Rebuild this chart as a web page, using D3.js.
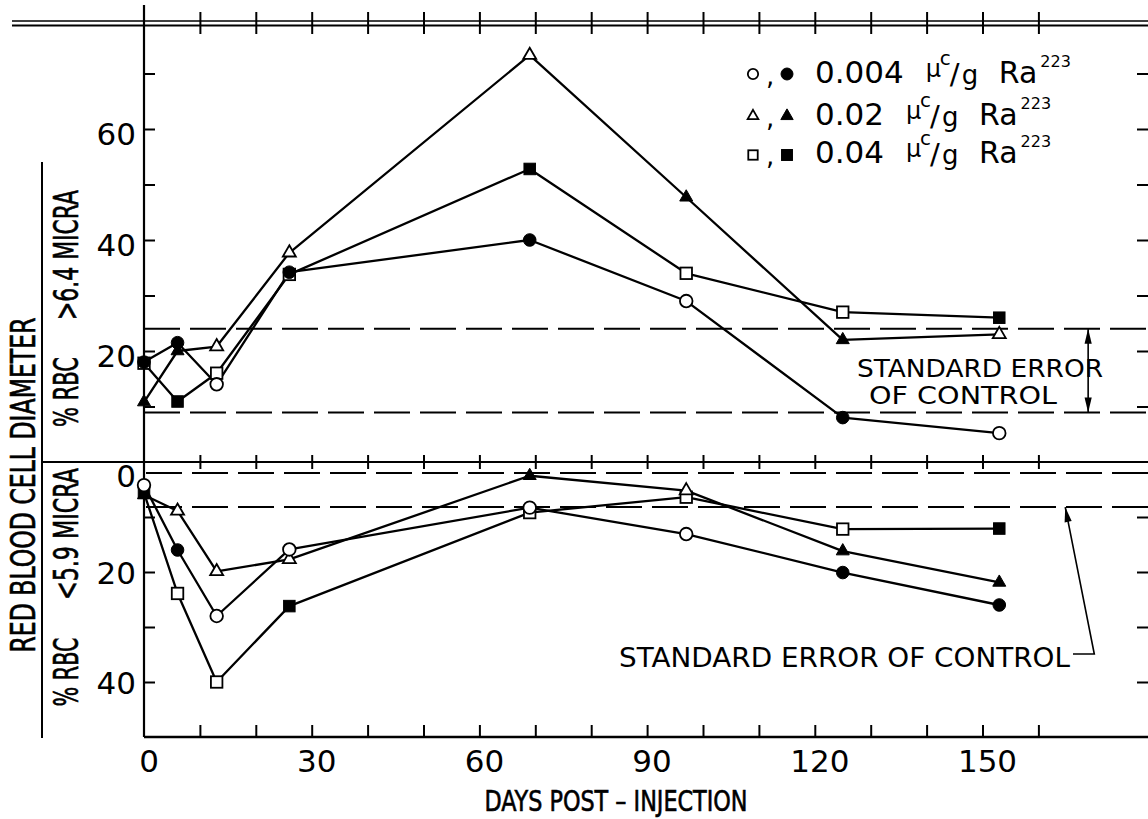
<!DOCTYPE html>
<html><head><meta charset="utf-8">
<script src="https://cdn.jsdelivr.net/npm/d3@7"></script>
<style>html,body{margin:0;padding:0;background:#fff}</style>
</head><body>
<svg id="c" width="1148" height="819"></svg>
<script>
// ---------------- data ----------------
const days = [0, 6, 13, 26, 69, 97, 125, 153];
const doseLabels = ["0.004", "0.02", "0.04"];
const doseShapes = ["circle", "triangle", "square"];
// upper panel: % RBC > 6.4 micra
const upper004 = [18.0, 21.5, 14.0, 34.2, 40.0, 29.0, 8.0, 5.2];
const upper002 = [10.8, 20.0, 20.8, 37.7, 73.3, 47.7, 22.0, 23.0];
const upper04  = [17.8, 10.9, 16.0, 33.8, 52.8, 34.0, 27.0, 26.0];
const upperFilled004 = [1, 1, 0, 1, 1, 0, 1, 0];
const upperFilled002 = [1, 1, 0, 0, 0, 1, 1, 0];
const upperFilled04  = [0, 1, 0, 0, 1, 0, 0, 1];
// lower panel: % RBC < 5.9 micra
const lower004 = [4.2, 16.0, 28.0, 15.9, 8.3, 13.1, 20.1, 26.0];
const lower002 = [6.0, 8.9, 19.9, 17.7, 2.5, 5.2, 16.2, 21.9];
const lower04  = [5.6, 23.9, 40.0, 26.2, 9.2, 6.4, 12.2, 12.1];
const lowerFilled004 = [0, 1, 0, 0, 0, 0, 1, 1];
const lowerFilled002 = [1, 0, 0, 0, 1, 0, 1, 1];
const lowerFilled04  = [1, 0, 0, 1, 0, 0, 0, 1];
// standard error of control bands
const upperControlSE = [8.9, 24.0];
const lowerControlSE = [2.0, 8.2];
// ticks
const xTickLabels = [0, 30, 60, 90, 120, 150];
const xMinorTicks = d3.range(10, 170, 10);
const upperTickLabels = [20, 40, 60];
const upperTicks = [10, 20, 30, 40, 50, 60, 70];
const lowerTickLabels = [0, 20, 40];
const lowerTicks = [10, 20, 30, 40];

// ---------------- layout ----------------
const W = 1148, H = 819;
const svg = d3.select("#c");
const x = d3.scaleLinear().domain([0, 160]).range([144, 144 + 160 * 5.59]);
const yU = d3.scaleLinear().domain([0, 80]).range([462, 462 - 80 * 5.55]);
const yL = d3.scaleLinear().domain([0, 50]).range([462, 737]);
const NUM = "'DejaVu Sans', sans-serif";
const COND = "'Liberation Sans Narrow', 'DejaVu Sans Condensed', sans-serif";

const frame = svg.append("g").attr("stroke", "#000").attr("fill", "none");
frame.append("line").attr("x1", 12).attr("x2", W).attr("y1", 21).attr("y2", 21).attr("stroke-width", 1.6);
frame.append("line").attr("x1", 12).attr("x2", W).attr("y1", 25.5).attr("y2", 25.5).attr("stroke-width", 1.8);
frame.append("line").attr("x1", 144).attr("x2", 144).attr("y1", 5).attr("y2", yL(50)).attr("stroke-width", 2.2);
frame.append("line").attr("x1", 42).attr("x2", W).attr("y1", yU(0)).attr("y2", yU(0)).attr("stroke-width", 2);
frame.append("line").attr("x1", 144).attr("x2", W).attr("y1", yL(50)).attr("y2", yL(50)).attr("stroke-width", 2.4);
frame.append("line").attr("x1", 42).attr("x2", 42).attr("y1", 162).attr("y2", 738).attr("stroke-width", 2);

function styleAxis(g) {
  g.select(".domain").remove();
  g.selectAll(".tick line").attr("stroke", "#000").attr("stroke-width", 2);
  g.selectAll(".tick text").remove();
}
svg.append("g").attr("transform", "translate(0,12)")
  .call(d3.axisBottom(x).tickValues(xMinorTicks).tickSize(22).tickSizeOuter(0)).call(styleAxis);
svg.append("g").attr("transform", `translate(0,${yU(0) - 7})`)
  .call(d3.axisBottom(x).tickValues(xMinorTicks).tickSize(14).tickSizeOuter(0)).call(styleAxis);
svg.append("g").attr("transform", `translate(0,${yL(50)})`)
  .call(d3.axisTop(x).tickValues(xMinorTicks).tickSize(12).tickSizeOuter(0)).call(styleAxis);
svg.append("g").attr("transform", "translate(144,0)")
  .call(d3.axisRight(yU).tickValues(upperTicks).tickSize(11).tickSizeOuter(0)).call(styleAxis);
svg.append("g").attr("transform", "translate(144,0)")
  .call(d3.axisRight(yL).tickValues(lowerTicks).tickSize(11).tickSizeOuter(0)).call(styleAxis);
svg.append("g").attr("transform", `translate(${W},0)`)
  .call(d3.axisLeft(yU).tickValues(upperTicks).tickSize(11).tickSizeOuter(0)).call(styleAxis);
svg.append("g").attr("transform", `translate(${W},0)`)
  .call(d3.axisLeft(yL).tickValues(lowerTicks).tickSize(11).tickSizeOuter(0)).call(styleAxis);

// tick labels
svg.append("g").selectAll("text").data(upperTickLabels).join("text")
  .attr("x", 136).attr("y", d => yU(d) + 16).attr("text-anchor", "end")
  .attr("font-family", NUM).attr("font-size", 31).text(d => d);
svg.append("g").selectAll("text").data(lowerTickLabels).join("text")
  .attr("x", 136).attr("y", d => d === 0 ? yL(d) + 25 : yL(d) + 12).attr("text-anchor", "end")
  .attr("font-family", NUM).attr("font-size", 31).text(d => d);
svg.append("g").selectAll("text").data(xTickLabels).join("text")
  .attr("x", d => x(d) + 5).attr("y", 772).attr("text-anchor", "middle")
  .attr("font-family", NUM).attr("font-size", 31).text(d => d);

// axis titles
svg.append("text").attr("transform", `translate(616,811)`).attr("text-anchor", "middle")
  .attr("font-family", COND).attr("font-size", 29).attr("stroke", "#000").attr("stroke-width", 0.6)
  .attr("textLength", 263).attr("lengthAdjust", "spacingAndGlyphs")
  .text("DAYS POST – INJECTION");
function vtext(bx, cy, len, size, str) {
  svg.append("text").attr("transform", `translate(${bx},${cy}) rotate(-90)`)
    .attr("text-anchor", "middle").attr("font-family", COND).attr("font-size", size)
    .attr("stroke", "#000").attr("stroke-width", 0.6)
    .attr("textLength", len).attr("lengthAdjust", "spacingAndGlyphs").text(str);
}
vtext(35, 485, 335, 33, "RED BLOOD CELL DIAMETER");
vtext(78, 392, 70, 33, "% RBC");
vtext(78, 255, 130, 33, ">6.4 MICRA");
vtext(78, 672, 69, 33, "% RBC");
vtext(78, 534, 132, 33, "<5.9 MICRA");

// control bands (dashed)
const dash = "36,10";
svg.append("g").selectAll("line").data(upperControlSE).join("line")
  .attr("x1", 144).attr("x2", W).attr("y1", d => yU(d)).attr("y2", d => yU(d))
  .attr("stroke", "#000").attr("stroke-width", 2).attr("stroke-dasharray", dash);
svg.append("g").selectAll("line").data(lowerControlSE).join("line")
  .attr("x1", 146).attr("x2", W).attr("y1", d => yL(d)).attr("y2", d => yL(d))
  .attr("stroke", "#000").attr("stroke-width", 2).attr("stroke-dasharray", dash);

// ---------------- series ----------------
const upperSeries = [
  { shape: "circle", vals: upper004, filled: upperFilled004 },
  { shape: "triangle", vals: upper002, filled: upperFilled002 },
  { shape: "square", vals: upper04, filled: upperFilled04 }];
const lowerSeries = [
  { shape: "circle", vals: lower004, filled: lowerFilled004 },
  { shape: "triangle", vals: lower002, filled: lowerFilled002 },
  { shape: "square", vals: lower04, filled: lowerFilled04 }];

function drawMarker(g, shape, cx, cy, filled, scale = 1) {
  const fill = filled ? "#000" : "#fff";
  const sw = filled ? 1 : 1.8;
  if (shape === "circle") {
    g.append("circle").attr("cx", cx).attr("cy", cy).attr("r", 6.3 * scale)
      .attr("fill", fill).attr("stroke", "#000").attr("stroke-width", sw);
  } else if (shape === "triangle") {
    const s = 13 * scale;
    g.append("path").attr("d", d3.symbol(d3.symbolTriangle, s * s * Math.sqrt(3) / 4)())
      .attr("transform", `translate(${cx},${cy})`)
      .attr("fill", fill).attr("stroke", "#000").attr("stroke-width", sw);
  } else {
    const s = 11.5 * scale;
    g.append("rect").attr("x", cx - s / 2).attr("y", cy - s / 2).attr("width", s).attr("height", s)
      .attr("fill", fill).attr("stroke", "#000").attr("stroke-width", sw);
  }
}

function drawPanel(series, y) {
  const line = d3.line().x(d => x(d.day)).y(d => y(d.v));
  const g = svg.append("g");
  series.forEach(s => {
    const pts = days.map((d, i) => ({ day: d, v: s.vals[i] }));
    g.append("path").attr("d", line(pts)).attr("fill", "none")
      .attr("stroke", "#000").attr("stroke-width", 2.3).attr("stroke-linejoin", "round");
  });
  ["square", "triangle", "circle"].forEach(sh => {
    const s = series.find(q => q.shape === sh);
    days.forEach((d, i) => drawMarker(g, sh, x(d), y(s.vals[i]), s.filled[i]));
  });
}
drawPanel(upperSeries, yU);
drawPanel(lowerSeries, yL);

// ---------------- annotations ----------------
function arrowHead(tx, ty, fx, fy) {
  const a = Math.atan2(ty - fy, tx - fx), L = 15, w = 3.6;
  const bx = tx - L * Math.cos(a), by = ty - L * Math.sin(a);
  const px = -Math.sin(a) * w, py = Math.cos(a) * w;
  svg.append("path").attr("d", `M${tx},${ty}L${bx + px},${by + py}L${bx - px},${by - py}Z`).attr("fill", "#000");
}
const ax = x(168.9);
svg.append("line").attr("x1", ax).attr("x2", ax).attr("y1", yU(upperControlSE[1])).attr("y2", yU(upperControlSE[0]))
  .attr("stroke", "#000").attr("stroke-width", 1.6);
arrowHead(ax, yU(upperControlSE[1]), ax, yU(upperControlSE[0]));
arrowHead(ax, yU(upperControlSE[0]), ax, yU(upperControlSE[1]));
const se = svg.append("g").attr("font-family", NUM).attr("font-size", 25);
se.append("text").attr("x", 857).attr("y", 377).attr("textLength", 246).attr("lengthAdjust", "spacingAndGlyphs").text("STANDARD ERROR");
se.append("text").attr("x", 869).attr("y", 404).attr("textLength", 188).attr("lengthAdjust", "spacingAndGlyphs").text("OF CONTROL");
se.append("text").attr("x", 619).attr("y", 667).attr("font-size", 26).attr("textLength", 451).attr("lengthAdjust", "spacingAndGlyphs").text("STANDARD ERROR OF CONTROL");
const tipX = x(164.8), tipY = yL(lowerControlSE[1]);
const tailX = x(170.0), tailY = 654;
svg.append("polyline").attr("points", `1073,${tailY} ${tailX},${tailY} ${tipX},${tipY}`)
  .attr("fill", "none").attr("stroke", "#000").attr("stroke-width", 1.6);
arrowHead(tipX, tipY, tailX, tailY);

// ---------------- legend ----------------
const legRows = [{ b: 83, my: 74 }, { b: 125, my: 116 }, { b: 163, my: 155 }];
doseLabels.forEach((lab, i) => {
  const r = legRows[i], g = svg.append("g").attr("font-family", NUM);
  drawMarker(g, doseShapes[i], 753, r.my, 0, 0.82);
  g.append("text").attr("x", 766).attr("y", r.b + 2).attr("font-size", 26).text(",");
  drawMarker(g, doseShapes[i], 787, r.my, 1, 0.95);
  const t = g.append("text").attr("x", 815).attr("y", r.b).attr("font-size", 31).text(lab);
  const ux = 815 + t.node().getComputedTextLength() + 22;
  g.append("text").attr("x", ux).attr("y", r.b - 6).attr("font-size", 24).text("μ");
  g.append("text").attr("x", ux + 14).attr("y", r.b - 18).attr("font-size", 20).text("c");
  g.append("text").attr("x", ux + 24).attr("y", r.b + 1).attr("font-size", 29).text("/");
  g.append("text").attr("x", ux + 36).attr("y", r.b + 1).attr("font-size", 26).text("g");
  const ra = g.append("text").attr("x", ux + 73).attr("y", r.b).attr("font-size", 30).text("Ra");
  const rb = ra.node().getBBox();
  g.append("text").attr("x", rb.x + rb.width + 3).attr("y", r.b - 16).attr("font-size", 16).text("223");
});
</script>
</body></html>
